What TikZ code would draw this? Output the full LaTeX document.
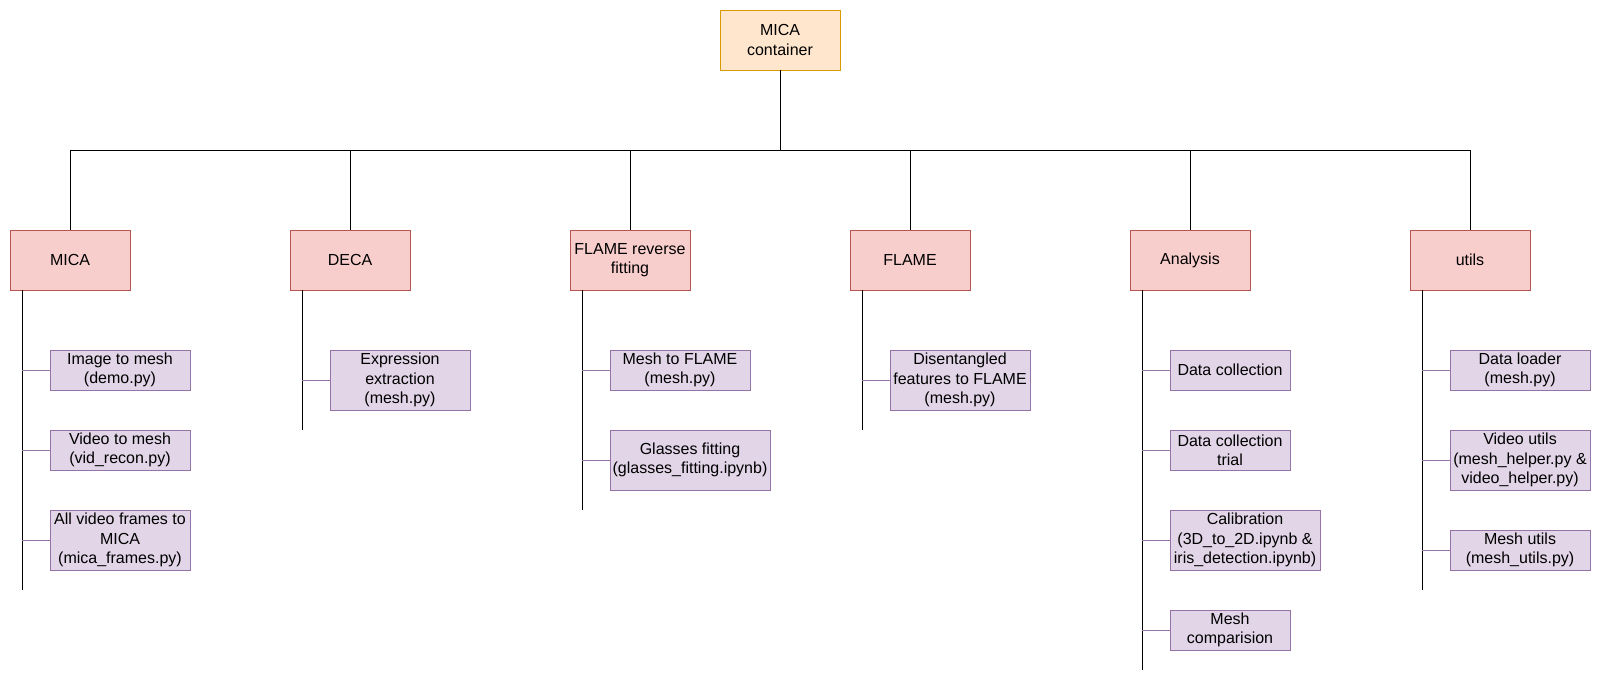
\documentclass[tikz,border=0pt]{standalone}
\usepackage{fontspec}
\setmainfont{Liberation Sans}
\usetikzlibrary{positioning}

\definecolor{topfill}{HTML}{FFE6CC}
\definecolor{topline}{HTML}{D79B00}
\definecolor{grpfill}{HTML}{F8CECC}
\definecolor{grpline}{HTML}{B85450}
\definecolor{leaffill}{HTML}{E1D5E7}
\definecolor{leafline}{HTML}{9673A6}

\begin{document}
\begin{tikzpicture}[
    x=0.75pt, y=-0.75pt,
    node distance=120pt,
    font=\fontsize{12pt}{14.5pt}\selectfont,
    box/.style={rectangle, draw, line width=0.75pt, align=center, inner sep=0pt, outer sep=0pt, minimum width=90pt, minimum height=45pt},
    top/.style={box, fill=topfill, draw=topline},
    group/.style={box, fill=grpfill, draw=grpline},
    leaf/.style={box, fill=leaffill, draw=leafline, anchor=west, minimum width=105pt, minimum height=30pt},
    edge/.style={draw, line width=0.75pt},
    branch/.style={draw, line width=0.75pt, leafline}
]
\useasboundingbox (0,0) rectangle (1601,683);

\node [top] (container) at (780,40) {MICA\\container};

\node [group] (mica) at (70,260) {MICA};
\node [group, right=of mica] (deca) {DECA};
\node [group, right=of deca] (reverse) {FLAME reverse\\fitting};
\node [group, right=of reverse] (flame) {FLAME};
\node [group, right=of flame] (analysis) {Analysis};
\node [group, right=of analysis] (utils) {utils};

% MICA
\node [leaf] (demo) at (50,370) {Image to mesh\\(demo.py)};
\node [leaf] (vidrecon) at (50,450) {Video to mesh\\(vid\_recon.py)};
\node [leaf, minimum height=45pt] (frames) at (50,540) {All video frames to\\MICA\\(mica\_frames.py)};
% DECA
\node [leaf, minimum height=45pt] (expression) at (330,380) {Expression\\extraction\\(mesh.py)};
% FLAME reverse fitting
\node [leaf] (meshflame) at (610,370) {Mesh to FLAME\\(mesh.py)};
\node [leaf, minimum width=120pt, minimum height=45pt] (glasses) at (610,460) {Glasses fitting\\(glasses\_fitting.ipynb)};
% FLAME
\node [leaf, minimum height=45pt] (disent) at (890,380) {Disentangled\\features to FLAME\\(mesh.py)};
% Analysis
\node [leaf, minimum width=90pt] (datacoll) at (1170,370) {Data collection};
\node [leaf, minimum width=90pt] (trial) at (1170,450) {Data collection\\trial};
\node [leaf, minimum width=112.5pt, minimum height=45pt] (calib) at (1170,540) {Calibration\\(3D\_to\_2D.ipynb \&\\iris\_detection.ipynb)};
\node [leaf, minimum width=90pt] (meshcomp) at (1170,630) {Mesh\\comparision};
% utils
\node [leaf] (loader) at (1450,370) {Data loader\\(mesh.py)};
\node [leaf, minimum height=45pt] (videoutils) at (1450,460) {Video utils\\(mesh\_helper.py \&\\video\_helper.py)};
\node [leaf] (meshutils) at (1450,550) {Mesh utils\\(mesh\_utils.py)};

% tree from the container
\coordinate (bus) at (0,150);
\path [edge] (container.south) -- (container.south |- bus) -| (mica.north);
\path [edge] (container.south) -- (container.south |- bus) -| (deca.north);
\path [edge] (container.south) -- (container.south |- bus) -| (reverse.north);
\path [edge] (container.south) -- (container.south |- bus) -| (flame.north);
\path [edge] (container.south) -- (container.south |- bus) -| (analysis.north);
\path [edge] (container.south) -- (container.south |- bus) -| (utils.north);

% trunks
\coordinate (micaend) at (22,590);
\coordinate (decaend) at (302,430);
\coordinate (reverseend) at (582,510);
\coordinate (flameend) at (862,430);
\coordinate (analysisend) at (1142,670);
\coordinate (utilsend) at (1422,590);
\path [edge] (mica.south west -| micaend) -- (micaend);
\path [edge] (deca.south west -| decaend) -- (decaend);
\path [edge] (reverse.south west -| reverseend) -- (reverseend);
\path [edge] (flame.south west -| flameend) -- (flameend);
\path [edge] (analysis.south west -| analysisend) -- (analysisend);
\path [edge] (utils.south west -| utilsend) -- (utilsend);

% branches
\path [branch] (micaend |- demo.west) -- (demo.west);
\path [branch] (micaend |- vidrecon.west) -- (vidrecon.west);
\path [branch] (micaend |- frames.west) -- (frames.west);
\path [branch] (decaend |- expression.west) -- (expression.west);
\path [branch] (reverseend |- meshflame.west) -- (meshflame.west);
\path [branch] (reverseend |- glasses.west) -- (glasses.west);
\path [branch] (flameend |- disent.west) -- (disent.west);
\path [branch] (analysisend |- datacoll.west) -- (datacoll.west);
\path [branch] (analysisend |- trial.west) -- (trial.west);
\path [branch] (analysisend |- calib.west) -- (calib.west);
\path [branch] (analysisend |- meshcomp.west) -- (meshcomp.west);
\path [branch] (utilsend |- loader.west) -- (loader.west);
\path [branch] (utilsend |- videoutils.west) -- (videoutils.west);
\path [branch] (utilsend |- meshutils.west) -- (meshutils.west);
\end{tikzpicture}
\end{document}
